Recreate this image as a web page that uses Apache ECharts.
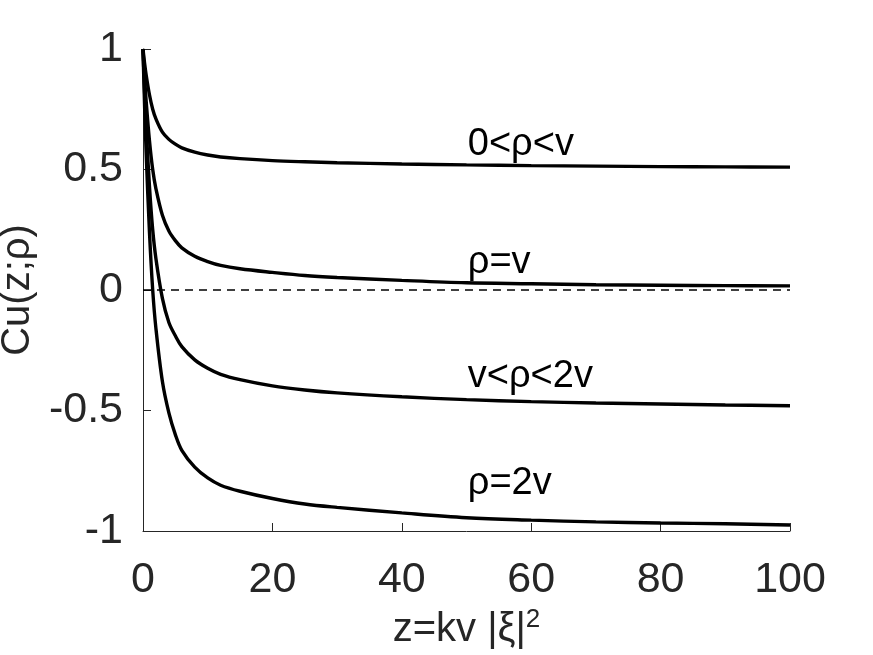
<!DOCTYPE html>
<html>
<head>
<meta charset="utf-8">
<script src="https://cdn.jsdelivr.net/npm/echarts@6/dist/echarts.min.js"></script>
<style>
  html, body { margin: 0; padding: 0; background: #fff; }
</style>
</head>
<body>
<div id="chart" style="width: 873px;height:655px;"></div>
<script type="text/javascript">

    // 数据：z 采样点和四条曲线的值
    var zs = [0, 0.25, 0.5, 1, 1.5, 2, 3, 4, 5, 6, 8, 10, 12, 15, 20, 25, 30, 40, 50, 60, 70, 80, 90, 100];
    var cuLow   = [1, 0.94, 0.89, 0.81, 0.75, 0.71, 0.655, 0.625, 0.605, 0.59, 0.572, 0.56, 0.552, 0.545, 0.537, 0.532, 0.528, 0.523, 0.519, 0.516, 0.514, 0.512, 0.511, 0.51];
    var cuEq    = [1, 0.88, 0.78, 0.62, 0.5, 0.42, 0.31, 0.245, 0.205, 0.175, 0.14, 0.118, 0.102, 0.088, 0.073, 0.06, 0.052, 0.04, 0.03, 0.026, 0.022, 0.02, 0.018, 0.017];
    var cuMid   = [1, 0.82, 0.67, 0.43, 0.25, 0.13, -0.035, -0.135, -0.19, -0.235, -0.29, -0.325, -0.35, -0.372, -0.398, -0.415, -0.427, -0.443, -0.455, -0.463, -0.469, -0.473, -0.477, -0.48];
    var cuTwo   = [1, 0.76, 0.56, 0.24, 0.0, -0.16, -0.38, -0.51, -0.6, -0.665, -0.735, -0.78, -0.81, -0.835, -0.865, -0.888, -0.902, -0.925, -0.945, -0.955, -0.962, -0.967, -0.97, -0.975];
    var zeroLine = [[0, 0], [100, 0]];

    var names = ['0<ρ<v', 'ρ=v', 'v<ρ<2v', 'ρ=2v'];
    // 曲线标签的锚点 (z, Cu)
    var labelAt = [[50.2, 0.605], [50.2, 0.115], [50.2, -0.36], [50.2, -0.805]];

    var xTicks = [0, 20, 40, 60, 80, 100];
    var yTicks = [-1, -0.5, 0, 0.5, 1];

    var FONT = '"Liberation Sans", Arial, sans-serif';

    function pairs(ys){
        return zs.map(function(z, i){ return [z, ys[i]]; });
    }

    var myChart = echarts.init(document.getElementById('chart'), null, {renderer: 'canvas'});

    var curves = [cuLow, cuEq, cuMid, cuTwo];
    var series = curves.map(function(ys, i){
        return {
            name: names[i],
            type: 'line',
            data: pairs(ys),
            showSymbol: false,
            smooth: 0.35,
            lineStyle: { color: '#000', width: 3.4 },
            z: 3,
            markPoint: {
                symbol: 'circle',
                symbolSize: 0,
                silent: true,
                data: [{
                    coord: labelAt[i],
                    label: {
                        show: true,
                        formatter: names[i],
                        position: 'right',
                        distance: 0,
                        color: '#000',
                        fontSize: 38,
                        fontFamily: FONT
                    }
                }]
            }
        };
    });
    // y=0 虚线
    series.push({
        type: 'line',
        data: zeroLine,
        showSymbol: false,
        lineStyle: { color: '#000', width: 1.5, type: [8, 6] },
        z: 2
    });

    var option = {
        backgroundColor: '#fff',
        animation: false,
        grid: {
            left: 143,
            right: 83,
            top: 49,
            bottom: 124,
            containLabel: false,
            outerBoundsMode: 'none'
        },
        xAxis: {
            type: 'value',
            min: xTicks[0],
            max: xTicks[xTicks.length - 1],
            interval: 20,
            name: 'z=kv |ξ|{sup|2}',
            nameLocation: 'middle',
            nameGap: 66,
            nameTextStyle: {
                color: '#262626',
                fontSize: 40,
                fontFamily: FONT,
                rich: {
                    sup: { fontSize: 26, verticalAlign: 'top', padding: [0, 0, 20, 0], color: '#262626', fontFamily: FONT }
                }
            },
            axisLine: { show: true, onZero: false, lineStyle: { color: '#262626', width: 1 } },
            axisTick: { show: true, inside: true, length: 8, lineStyle: { color: '#262626' } },
            axisLabel: { color: '#262626', fontSize: 43, fontFamily: FONT, margin: 28 },
            splitLine: { show: false }
        },
        yAxis: {
            type: 'value',
            min: yTicks[0],
            max: yTicks[yTicks.length - 1],
            interval: 0.5,
            name: 'Cu(z;ρ)',
            nameLocation: 'middle',
            nameGap: 86,
            nameTextStyle: { color: '#262626', fontSize: 40, fontFamily: FONT },
            axisLine: { show: true, lineStyle: { color: '#262626', width: 1 } },
            axisTick: { show: true, inside: true, length: 8, lineStyle: { color: '#262626' } },
            axisLabel: { color: '#262626', fontSize: 43, fontFamily: FONT, margin: 20 },
            splitLine: { show: false }
        },
        series: series
    };
    myChart.setOption(option);
</script>
</body>
</html>
